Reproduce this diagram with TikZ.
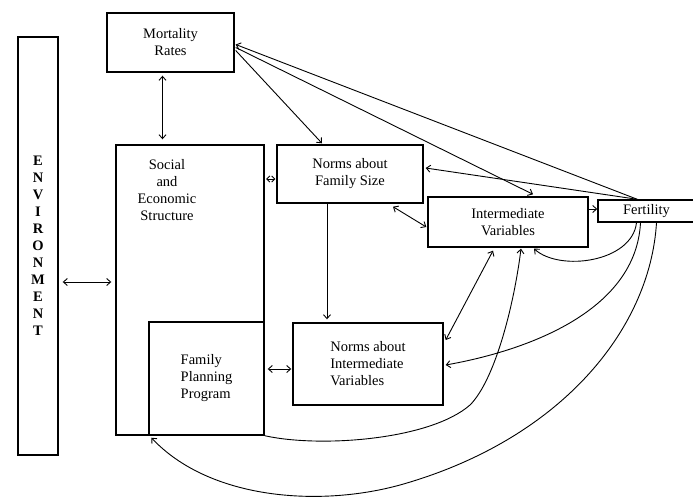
\documentclass[tikz,border=0pt]{standalone}
\usepackage{fontspec}
\setmainfont{Liberation Serif}
\usetikzlibrary{arrows.meta,calc}
\begin{document}
\begin{tikzpicture}[x=1pt,y=-1pt,
  box/.style={draw, line width=1.4pt, inner sep=0pt, font=\fontsize{14.5}{17}\selectfont},
  txt/.style={inner sep=0pt, font=\fontsize{14.5}{17}\selectfont},
  conn/.style={line width=0.9pt},
  smalltips/.style={{Straight Barb[length=3pt,width=6pt]}-{Straight Barb[length=3pt,width=6pt]}},
  >={Straight Barb[length=4pt,width=7pt]}]
\useasboundingbox (0,0) rectangle (693,496);

% boxes
\node[box, minimum width=40pt, minimum height=418pt, align=center,
      font=\bfseries\fontsize{14.5}{17}\selectfont] (env) at (38,246)
  {E\\N\\V\\I\\R\\O\\N\\M\\E\\N\\T};
\node[box, minimum width=127pt, minimum height=59pt, align=center] (mort) at (170.5,42.5) {Mortality\\Rates};
\node[box, minimum width=148pt, minimum height=290pt] (soc) at (190,290) {};
\node[txt, align=center] (soctext) at (167,190.5) {Social\\and\\Economic\\Structure};
\node[box, minimum width=115pt, minimum height=113pt, align=left] (fpp) at (206.5,378.5) {Family\\Planning\\Program};
\node[box, minimum width=146pt, minimum height=58pt, align=center] (nfs) at (350,174) {Norms about\\Family Size};
\node[box, minimum width=160pt, minimum height=50pt, align=center] (iv) at (508,222) {Intermediate\\Variables};
\node[box, minimum width=97pt, minimum height=22pt] (fert) at (646.5,211) {Fertility};
\node[box, minimum width=150pt, minimum height=82pt, align=left] (niv) at (368,364) {Norms about\\Intermediate\\Variables};

\coordinate (ftop) at ($(fert.north west)+(40,0)$);

% straight connectors
\draw[conn,<->] ($(env.east)+(4,36)$) -- ($(soc.west)+(-4,-8)$);
\draw[conn,<->] ($(mort.south)+(-8,3)$) -- ($(mort.south |- soc.north)+(-8,-5)$);
\draw[conn,smalltips] ($(soc.east)+(1.5,-111)$) -- ($(nfs.west)+(-1,5)$);
\draw[conn,<->] ($(fpp.east)+(3,-9.5)$) -- ($(niv.west)+(-1,5)$);
\draw[conn,->] ($(nfs.south)+(-23,0)$) -- ($(nfs.south |- niv.north)+(-23,-3)$);
\draw[conn,->] ($(mort.east)+(1,8)$) -- ($(nfs.north)+(-28,-1)$);
\draw[conn,<->] ($(nfs.south)+(43,3)$) -- ($(iv.west)+(-1,5)$);
\draw[conn,->] ($(iv.east)+(0,-13)$) -- ($(fert.west)+(0,-2)$);
\draw[conn,->] (ftop) -- ($(mort.east)+(1,2)$);
\draw[conn,->] ($(mort.east)+(1,5)$) -- ($(iv.north)+(25,-2)$);
\draw[conn,->] (ftop) -- ($(nfs.east)+(2,-6)$);
\draw[conn,<->] ($(niv.east)+(2,-24)$) -- ($(iv.south)+(-15,3)$);

% curved connectors
\draw[conn,->] ($(fert.south)+(-10,0)$) .. controls (632,262) and (560,272) .. ($(iv.south)+(26,1)$);
\draw[conn,->] ($(fert.south)+(-6,0)$) .. controls (636,310) and (530,350) .. ($(niv.east)+(2,1)$);
\draw[conn,->] ($(fert.south)+(10,0)$) .. controls (650,330) and (560,440) .. (400,485)
   .. controls (320,507) and (210,500) .. ($(fpp.south west)+(3,2)$);
\draw[conn,->] (fpp.south east) .. controls (320,448) and (430,440) .. (470,405)
   .. controls (495,380) and (514,305) .. ($(iv.south)+(13,1)$);
\end{tikzpicture}
\end{document}
